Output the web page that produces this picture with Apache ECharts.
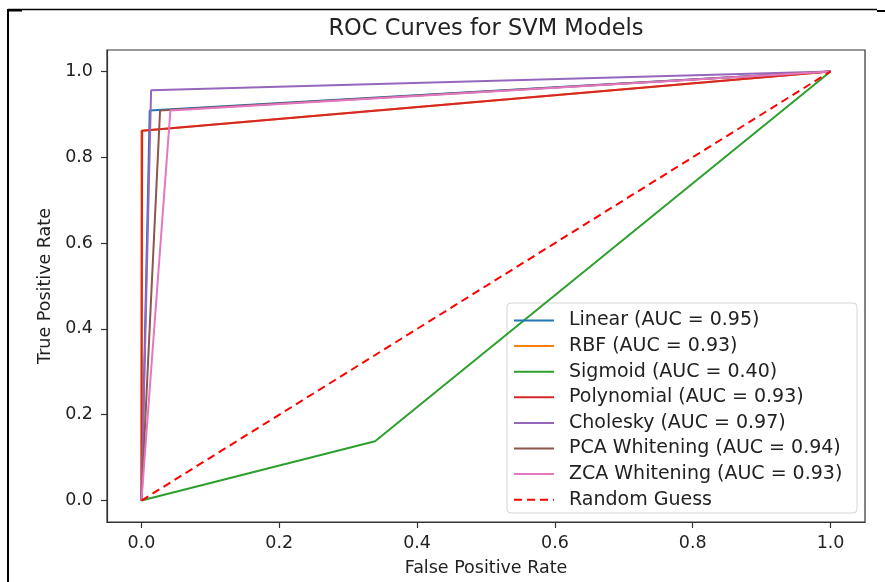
<!DOCTYPE html>
<html>
<head>
<meta charset="utf-8">
<script src="https://cdn.jsdelivr.net/npm/echarts@6/dist/echarts.min.js"></script>
<style>html,body{margin:0;padding:0;background:#fff;}#c{width:885px;height:582px;}</style>
</head>
<body>
<div id="c"></div>
<script>
// ---- data ----
const seriesNames = ['Linear (AUC = 0.95)', 'RBF (AUC = 0.93)', 'Sigmoid (AUC = 0.40)', 'Polynomial (AUC = 0.93)', 'Cholesky (AUC = 0.97)', 'PCA Whitening (AUC = 0.94)', 'ZCA Whitening (AUC = 0.93)', 'Random Guess'];
const seriesColors = ['#1f77b4', '#ff7f0e', '#2ca02c', '#d62728', '#9467bd', '#8c564b', '#e377c2', '#ff0000'];
const linearFPR = [0, 0.012, 1];      const linearTPR = [0, 0.909, 1];
const rbfFPR = [0, 0.0, 1];           const rbfTPR = [0, 0.862, 1];
const sigmoidFPR = [0, 0.339, 1];     const sigmoidTPR = [0, 0.138, 1];
const polyFPR = [0, 0.001, 1];        const polyTPR = [0, 0.862, 1];
const choleskyFPR = [0, 0.014, 1];    const choleskyTPR = [0, 0.956, 1];
const pcaFPR = [0, 0.027, 1];         const pcaTPR = [0, 0.909, 1];
const zcaFPR = [0, 0.042, 1];         const zcaTPR = [0, 0.909, 1];
const randomFPR = [0, 1];             const randomTPR = [0, 1];
const xTicks = [0, 0.2, 0.4, 0.6, 0.8, 1.0];
const yTicks = [0, 0.2, 0.4, 0.6, 0.8, 1.0];

const curves = [
  [linearFPR, linearTPR], [rbfFPR, rbfTPR], [sigmoidFPR, sigmoidTPR], [polyFPR, polyTPR],
  [choleskyFPR, choleskyTPR], [pcaFPR, pcaTPR], [zcaFPR, zcaTPR], [randomFPR, randomTPR]
];

const FONT = 'DejaVu Sans';
const chart = echarts.init(document.getElementById('c'), null, {renderer: 'canvas'});

const series = curves.map(function (c, i) {
  return {
    name: seriesNames[i],
    type: 'line',
    data: c[0].map(function (x, j) { return [x, c[1][j]]; }),
    symbol: 'none',
    showSymbol: false,
    animation: false,
    color: seriesColors[i],
    lineStyle: { color: seriesColors[i], width: 2, type: i === 7 ? [8, 5] : 'solid' },
    emphasis: { disabled: true }
  };
});

const axisCommon = {
  type: 'value',
  min: -0.05,
  max: 1.05,
  splitLine: { show: false },
  axisLine: { show: true, onZero: false, lineStyle: { color: '#333', width: 1.2 } },
  axisTick: { show: true, length: 6, lineStyle: { color: '#333', width: 1.2 } },
  axisLabel: { color: '#222', fontSize: 17.5, fontFamily: FONT, formatter: function (v) { return v.toFixed(1); } },
  nameTextStyle: { color: '#222', fontSize: 17.5, fontFamily: FONT }
};

chart.setOption({
  animation: false,
  backgroundColor: '#ffffff',
  title: {
    text: 'ROC Curves for SVM Models',
    left: 486, top: 18, textAlign: 'center', padding: 0,
    textStyle: { color: '#222', fontSize: 22.5, fontWeight: 'normal', fontFamily: FONT }
  },
  grid: { left: 107, right: 20, top: 50, bottom: 60, show: true, borderColor: '#333', borderWidth: 1.2, backgroundColor: 'transparent' },
  xAxis: Object.assign({}, axisCommon, {
    name: 'False Positive Rate', nameLocation: 'middle', nameGap: 37,
    axisTick: Object.assign({}, axisCommon.axisTick, { customValues: xTicks }),
    axisLabel: Object.assign({}, axisCommon.axisLabel, { customValues: xTicks, margin: 12 })
  }),
  yAxis: Object.assign({}, axisCommon, {
    name: 'True Positive Rate', nameLocation: 'middle', nameGap: 51, nameRotate: 90,
    axisTick: Object.assign({}, axisCommon.axisTick, { customValues: yTicks }),
    axisLabel: Object.assign({}, axisCommon.axisLabel, { customValues: yTicks, margin: 14 })
  }),
  legend: {
    orient: 'vertical',
    left: 513, top: 311,
    padding: 0,
    itemWidth: 40, itemHeight: 14, itemGap: 6.6,
    data: seriesNames,
    selectedMode: false,
    itemStyle: { opacity: 0, borderWidth: 0 },
    textStyle: { color: '#222', fontSize: 19, fontFamily: FONT, lineHeight: 18, padding: [0, 0, 0, 10] }
  },
  graphic: [
    { type: 'rect', z: 3, shape: { x: 507, y: 303, width: 350, height: 210, r: 4 },
      style: { fill: 'rgba(255,255,255,0.8)', stroke: '#d4d4d4', lineWidth: 1 } },
    { type: 'line', z: 10, shape: { x1: 8, y1: 9.5, x2: 877, y2: 9.5 }, style: { stroke: '#000', lineWidth: 1.5 } },
    { type: 'line', z: 10, shape: { x1: 8, y1: 10.5, x2: 22, y2: 10.5 }, style: { stroke: '#000', lineWidth: 2 } },
    { type: 'line', z: 10, shape: { x1: 877, y1: 11, x2: 885, y2: 11 }, style: { stroke: '#000', lineWidth: 2 } },
    { type: 'line', z: 10, shape: { x1: 8, y1: 9, x2: 8, y2: 582 }, style: { stroke: '#000', lineWidth: 2 } }
  ],
  series: series
});
</script>
</body>
</html>
